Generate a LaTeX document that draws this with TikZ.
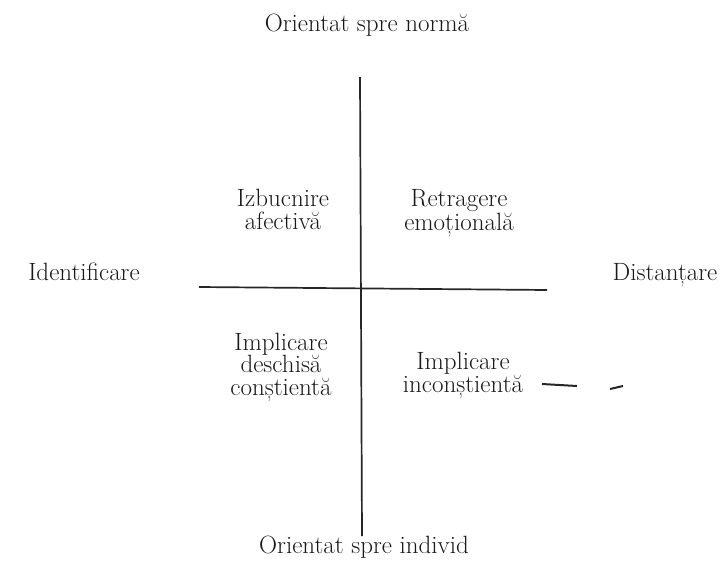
\documentclass[tikz,border=0pt]{standalone}
\begin{document}
\begin{tikzpicture}[x=1pt,y=-1pt,
  lbl/.style={inner sep=0pt,anchor=base,align=center,font=\fontsize{25}{22.4}\selectfont,text=black!90},
  axis/.style={line width=1.7pt,black!85},
  stray/.style={line width=2pt,black!85}]
\useasboundingbox (0,0) rectangle (724,563);
% axes
\coordinate (vt) at (360,77);
\coordinate (vb) at (362,536);
\coordinate (hl) at (199,287);
\coordinate (hr) at (547,290);
\draw[axis] (vt) -- (vb);
\draw[axis] (hl) -- (hr);
% axis labels
\node[lbl] (top) at (367,31) {Orientat spre normă};
\node[lbl] (bot) at (364,553) {Orientat spre individ};
\node[lbl] (left) at (84,280) {Identificare};
\node[lbl] (right) at (665,280) {Distanțare};
% quadrant labels (anchor = baseline of last line)
\node[lbl] (q1) at (283,229) {Izbucnire\\afectivă};
\node[lbl] (q2) at (459,230) {Retragere\\emoțională};
\node[lbl] (q3) at (281,395) {Implicare\\deschisă\\conștientă};
\node[lbl] (q4) at (463,392) {Implicare\\inconștientă};
% stray marks
\coordinate (m1a) at (542,384);
\coordinate (m1b) at (577,386);
\coordinate (m2a) at (610,389);
\coordinate (m2b) at (623,386);
\draw[stray] (m1a) -- (m1b);
\draw[stray] (m2a) -- (m2b);
\end{tikzpicture}
\end{document}
